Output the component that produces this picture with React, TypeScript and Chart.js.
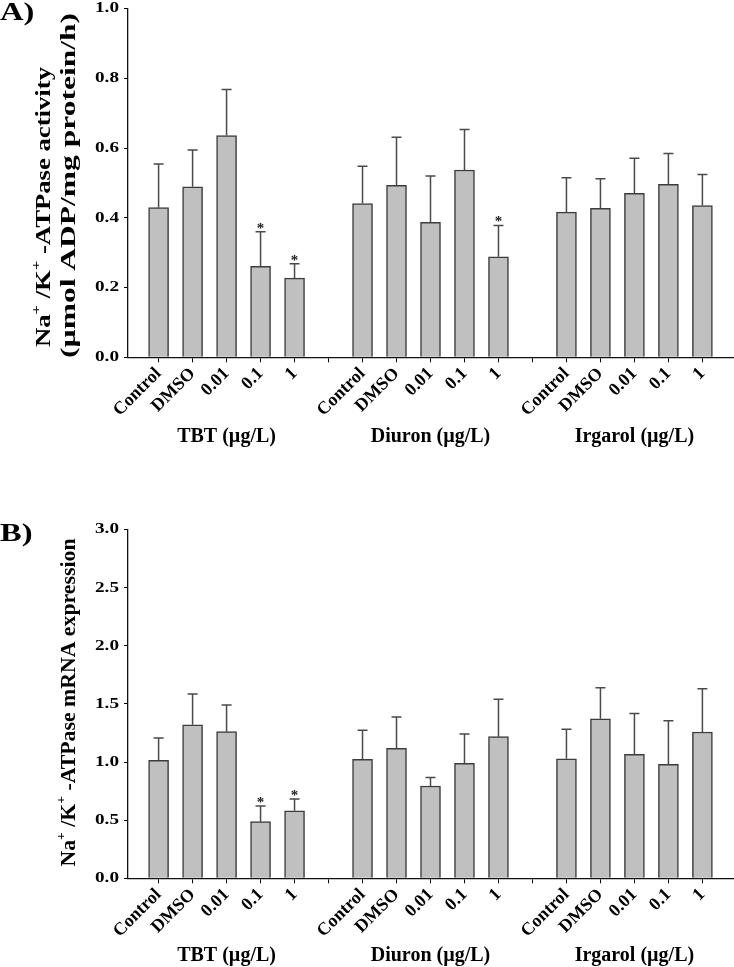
import React, { useEffect, useRef } from 'react';
import { Chart, registerables } from 'chart.js';
Chart.register(...registerables);

const groups = ['TBT (µg/L)', 'Diuron (µg/L)', 'Irgarol (µg/L)'];
const treatments = ['Control', 'DMSO', '0.01', '0.1', '1'];

// Panel A: Na+/K+-ATPase activity
const activityTBT = [0.429, 0.489, 0.636, 0.261, 0.227];
const activityTBTErr = [0.125, 0.105, 0.132, 0.099, 0.041];
const activityDiuron = [0.441, 0.493, 0.387, 0.537, 0.288];
const activityDiuronErr = [0.107, 0.138, 0.133, 0.116, 0.090];
const activityIrgarol = [0.416, 0.427, 0.470, 0.496, 0.435];
const activityIrgarolErr = [0.099, 0.085, 0.101, 0.088, 0.089];
const activitySig = [[false, false, false, true, true], [false, false, false, false, true], [false, false, false, false, false]];

// Panel B: Na+/K+-ATPase mRNA expression
const mrnaTBT = [1.014, 1.321, 1.261, 0.487, 0.581];
const mrnaTBTErr = [0.192, 0.264, 0.229, 0.135, 0.101];
const mrnaDiuron = [1.023, 1.118, 0.794, 0.989, 1.218];
const mrnaDiuronErr = [0.250, 0.269, 0.074, 0.252, 0.321];
const mrnaIrgarol = [1.028, 1.372, 1.066, 0.980, 1.258];
const mrnaIrgarolErr = [0.253, 0.266, 0.352, 0.375, 0.372];
const mrnaSig = [[false, false, false, true, true], [false, false, false, false, false], [false, false, false, false, false]];

const FONT = "'Liberation Serif', 'Times New Roman', serif";

type Seg = { t: string; sup?: boolean };

function buildPoints(vals: number[][], errs: number[][], sig: boolean[][]) {
  const pts: any[] = [];
  vals.forEach((arr, g) => {
    arr.forEach((v, i) => {
      pts.push({ x: g * 6 + i, y: v, err: errs[g][i], sig: sig[g][i] });
    });
  });
  return pts;
}

// rotated title, stretched along its length to the measured span
function drawRich(ctx: CanvasRenderingContext2D, segs: Seg[], cx: number, cy: number, size: number, length: number) {
  const supSize = Math.round(size * 0.62);
  let total = 0;
  const widths = segs.map((s) => {
    ctx.font = `bold ${s.sup ? supSize : size}px ${FONT}`;
    const w = ctx.measureText(s.t).width;
    total += w;
    return w;
  });
  const k = length / total;
  ctx.save();
  ctx.translate(cx, cy);
  ctx.rotate(-Math.PI / 2);
  ctx.scale(k, 1);
  ctx.fillStyle = '#000';
  ctx.textBaseline = 'middle';
  ctx.textAlign = 'left';
  let x = -total / 2;
  segs.forEach((s, i) => {
    ctx.font = `bold ${s.sup ? supSize : size}px ${FONT}`;
    ctx.fillText(s.t, x, s.sup ? -size * 0.4 : 0);
    x += widths[i];
  });
  ctx.restore();
}

type PanelProps = {
  height: number;
  top: number;
  letter: string;
  yMax: number;
  yStep: number;
  points: any[];
  groupOffset: number;
  titleLines: { segs: Seg[]; x: number; y: number; len: number }[];
};

function Panel(props: PanelProps) {
  const ref = useRef<HTMLCanvasElement | null>(null);
  useEffect(() => {
    const canvas = ref.current;
    if (!canvas) return;
    const labels: string[] = [];
    for (let g = 0; g < 3; g++) {
      treatments.forEach((t) => labels.push(t));
      if (g < 2) labels.push('');
    }
    const extras = {
      id: 'extras',
      afterDatasetsDraw(chart: any) {
        const ctx = chart.ctx as CanvasRenderingContext2D;
        const meta = chart.getDatasetMeta(0);
        const ys = chart.scales.y;
        ctx.save();
        meta.data.forEach((el: any, idx: number) => {
          const p = props.points[idx];
          const top = el.y;
          const cap = ys.getPixelForValue(p.y + p.err);
          ctx.strokeStyle = '#4a4a4a';
          ctx.lineWidth = 1.5;
          ctx.beginPath();
          ctx.moveTo(el.x, top);
          ctx.lineTo(el.x, cap);
          ctx.moveTo(el.x - 5, cap);
          ctx.lineTo(el.x + 5, cap);
          ctx.stroke();
          if (p.sig) {
            ctx.fillStyle = '#222';
            ctx.font = `bold 15px ${FONT}`;
            ctx.textAlign = 'center';
            ctx.textBaseline = 'alphabetic';
            ctx.fillText('*', el.x, cap + 1);
          }
        });
        ctx.restore();
      },
      afterDraw(chart: any) {
        const ctx = chart.ctx as CanvasRenderingContext2D;
        const xs = chart.scales.x;
        const ys = chart.scales.y;
        const area = chart.chartArea;
        ctx.save();
        ctx.fillStyle = '#000';
        // y tick labels from the y scale's ticks
        ctx.font = `bold 15px ${FONT}`;
        ctx.textAlign = 'right';
        ctx.textBaseline = 'middle';
        ys.ticks.forEach((t: any) => {
          const py = ys.getPixelForValue(t.value);
          ctx.save();
          ctx.translate(area.left - 9, py);
          ctx.scale(1.28, 1);
          ctx.fillText(Number(t.value).toFixed(1), 0, 0);
          ctx.restore();
        });
        // group labels
        ctx.font = `bold 20px ${FONT}`;
        ctx.textAlign = 'center';
        ctx.textBaseline = 'middle';
        groups.forEach((g, k) => {
          ctx.fillText(g, xs.getPixelForValue(k * 6 + 2), area.bottom + props.groupOffset);
        });
        // panel letter
        ctx.save();
        ctx.translate(0, 20);
        ctx.scale(1.3, 1);
        ctx.font = `bold 25px ${FONT}`;
        ctx.textAlign = 'left';
        ctx.textBaseline = 'alphabetic';
        ctx.fillText(props.letter, 0, 0);
        ctx.restore();
        ctx.restore();
        props.titleLines.forEach((l) => drawRich(ctx, l.segs, l.x, l.y, 21, l.len));
      },
    };
    const chart = new Chart(canvas, {
      type: 'bar',
      data: {
        datasets: [
          {
            data: props.points,
            backgroundColor: '#c0c0c0',
            borderColor: '#3c3c3c',
            borderWidth: 1.5,
            barThickness: 20,
          } as any,
        ],
      },
      options: {
        animation: false,
        responsive: false,
        events: [],
        layout: { padding: { top: 8.5, right: 1, left: 0, bottom: 0 } },
        plugins: { legend: { display: false }, tooltip: { enabled: false } },
        scales: {
          x: {
            type: 'linear',
            min: -0.9,
            max: 16.9,
            offset: false,
            afterFit: (s: any) => { s.height = props.height - 357.3; },
            afterBuildTicks: (s: any) => {
              s.ticks = labels.map((_, i) => ({ value: i }));
            },
            grid: { offset: false, drawOnChartArea: false, drawTicks: true, tickLength: 5, color: '#000', lineWidth: 1 },
            border: { display: true, color: '#111', width: 1.3 },
            ticks: {
              autoSkip: false,
              includeBounds: false,
              maxRotation: 45,
              minRotation: 45,
              padding: 1,
              color: '#000',
              font: { family: FONT, size: 18, weight: 'bold' },
              callback: (v: any) => labels[Math.round(Number(v))] ?? '',
            },
          },
          y: {
            min: 0,
            max: props.yMax,
            afterFit: (s: any) => { s.width = 128; },
            grid: { drawOnChartArea: false, drawTicks: true, tickLength: 4, color: '#000', lineWidth: 1 },
            border: { display: true, color: '#111', width: 1.3 },
            ticks: {
              display: false,
              stepSize: props.yStep,
            },
          },
        },
      } as any,
      plugins: [extras],
    });
    return () => chart.destroy();
  }, []);
  return (
    <div style={{ position: 'absolute', left: 0, top: props.top, width: 734, height: props.height }}>
      <canvas ref={ref} width={734} height={props.height} style={{ width: 734, height: props.height, display: 'block' }} />
    </div>
  );
}

export default function App() {
  const pointsA = buildPoints(
    [activityTBT, activityDiuron, activityIrgarol],
    [activityTBTErr, activityDiuronErr, activityIrgarolErr],
    activitySig
  );
  const pointsB = buildPoints(
    [mrnaTBT, mrnaDiuron, mrnaIrgarol],
    [mrnaTBTErr, mrnaDiuronErr, mrnaIrgarolErr],
    mrnaSig
  );
  const titleA = [
    { segs: [{ t: 'Na' }, { t: '+', sup: true }, { t: ' /K' }, { t: '+', sup: true }, { t: ' -ATPase activity' }], x: 45, y: 207, len: 280 },
    { segs: [{ t: '(µmol ADP/mg protein/h)' }], x: 70, y: 185.5, len: 345 },
  ];
  const titleB = [
    { segs: [{ t: 'Na' }, { t: '+', sup: true }, { t: ' /K' }, { t: '+', sup: true }, { t: ' -ATPase mRNA expression' }], x: 70, y: 181.5, len: 328 },
  ];
  return (
    <div style={{ position: 'absolute', left: 0, top: 0, width: 734, height: 967, background: '#fff' }}>
      <Panel height={450} top={0} letter="A)" yMax={1.0} yStep={0.2} points={pointsA} titleLines={titleA} groupOffset={80} />
      <Panel height={446} top={521} letter="B)" yMax={3.0} yStep={0.5} points={pointsB} titleLines={titleB} groupOffset={77.5} />
    </div>
  );
}
